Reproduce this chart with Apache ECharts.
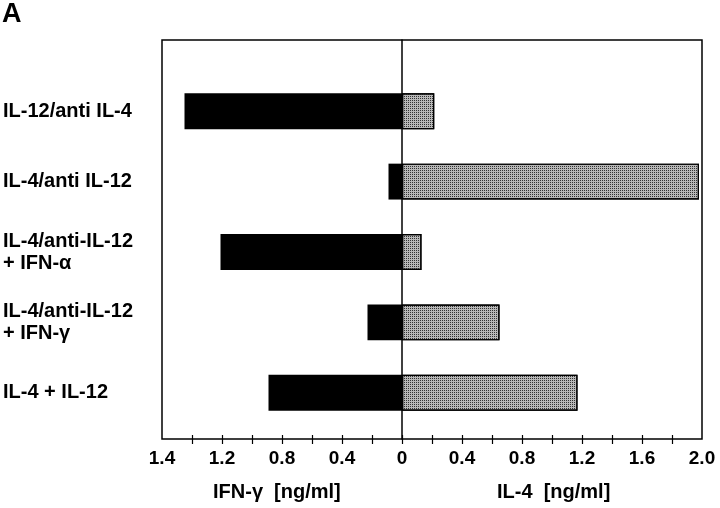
<!DOCTYPE html>
<html>
<head>
<meta charset="utf-8">
<script src="https://cdn.jsdelivr.net/npm/echarts@6/dist/echarts.min.js"></script>
<style>
  html, body { margin: 0; padding: 0; background: #fff; }
  #main { width: 720px; height: 508px; }
</style>
</head>
<body>
<div id="main"></div>
<script>
// conditions, top to bottom
var categories = [
  'IL-12/anti IL-4',
  'IL-4/anti IL-12',
  'IL-4/anti-IL-12\n+ IFN-\u03b1',
  'IL-4/anti-IL-12\n+ IFN-\u03b3',
  'IL-4 + IL-12'
];
// IFN-γ (left, black) and IL-4 (right, grey), ng/ml
var ifnGamma = [1.45, 0.09, 1.21, 0.23, 0.89];
var il4 = [0.215, 1.98, 0.13, 0.65, 1.17];

// axis labels as printed (left side goes to the left of 0)
var tickValues = [-1.6, -1.2, -0.8, -0.4, 0, 0.4, 0.8, 1.2, 1.6, 2.0];
var tickLabels = ['1.4', '1.2', '0.8', '0.4', '0', '0.4', '0.8', '1.2', '1.6', '2.0'];
var minorTicks = [-1.4, -1.2, -1.0, -0.8, -0.6, -0.4, -0.2, 0, 0.2, 0.4, 0.6, 0.8, 1.0, 1.2, 1.4, 1.6, 1.8];

var FONT = '"Liberation Sans", Arial, Helvetica, sans-serif';
var X_MIN = -1.6, X_MAX = 2.0;

var chart = echarts.init(document.getElementById('main'), null, { renderer: 'canvas' });

chart.setOption({
  backgroundColor: '#fff',
  animation: false,
  graphic: [
    { type: 'text', left: 2, top: 1, style: { text: 'A', font: 'bold 27px ' + FONT, fill: '#000' } },
    { type: 'text', left: 213, top: 482, style: { text: 'IFN-\u03b3  [ng/ml]', font: 'bold 20px ' + FONT, fill: '#000' } },
    { type: 'text', left: 497, top: 482, style: { text: 'IL-4  [ng/ml]', font: 'bold 20px ' + FONT, fill: '#000' } }
  ],
  grid: [
    // outer box with axis
    { left: 162, right: 18, top: 40, bottom: 69, show: true, borderColor: '#000', borderWidth: 1.5, backgroundColor: 'transparent' },
    // bars
    { left: 162, right: 18, top: 76, bottom: 80 }
  ],
  xAxis: [
    {
      type: 'value', gridIndex: 0, min: X_MIN, max: X_MAX, position: 'bottom',
      axisLine: { show: false, onZero: false },
      splitLine: { show: false },
      axisTick: { show: true, customValues: minorTicks, length: 5, lineStyle: { color: '#000', width: 1.2 } },
      axisLabel: {
        customValues: tickValues,
        margin: 10,
        color: '#000',
        fontFamily: FONT,
        fontWeight: 'bold',
        fontSize: 19,
        formatter: function (v) {
          for (var i = 0; i < tickValues.length; i++) {
            if (Math.abs(tickValues[i] - v) < 1e-6) return tickLabels[i];
          }
          return '';
        }
      }
    },
    {
      type: 'value', gridIndex: 0, min: X_MIN, max: X_MAX, position: 'bottom', offset: 0,
      axisLine: { show: false, onZero: false },
      splitLine: { show: false },
      axisLabel: { show: false },
      axisTick: { show: true, inside: true, customValues: minorTicks, length: 4, lineStyle: { color: '#000', width: 1.2 } }
    },
    {
      type: 'value', gridIndex: 1, min: X_MIN, max: X_MAX, show: false
    }
  ],
  yAxis: [
    {
      type: 'value', gridIndex: 0, min: 0, max: 1,
      axisLine: { show: true, onZero: true, lineStyle: { color: '#000', width: 1.5 } },
      axisTick: { show: false },
      axisLabel: { show: false },
      splitLine: { show: false }
    },
    {
      type: 'category', gridIndex: 1, inverse: true, data: categories,
      axisLine: { show: false },
      axisTick: { show: false },
      axisLabel: {
        align: 'left',
        margin: 159,
        color: '#000',
        fontFamily: FONT,
        fontWeight: 'bold',
        fontSize: 20,
        lineHeight: 22
      }
    }
  ],
  series: [
    {
      name: 'IFN-\u03b3',
      type: 'bar',
      xAxisIndex: 2,
      yAxisIndex: 1,
      barWidth: '51%',
      barGap: '-100%',
      data: ifnGamma.map(function (v) { return -v; }),
      itemStyle: { color: '#000' }
    },
    {
      name: 'IL-4',
      type: 'bar',
      xAxisIndex: 2,
      yAxisIndex: 1,
      barWidth: '51%',
      barGap: '-100%',
      data: il4,
      itemStyle: {
        color: '#b8b8b8',
        borderColor: '#000',
        borderWidth: 1.2,
        decal: {
          symbol: 'rect',
          symbolSize: 1,
          color: '#333',
          rotation: 0,
          dashArrayX: [1, 1],
          dashArrayY: [1, 1]
        }
      }
    }
  ]
});
</script>
</body>
</html>
